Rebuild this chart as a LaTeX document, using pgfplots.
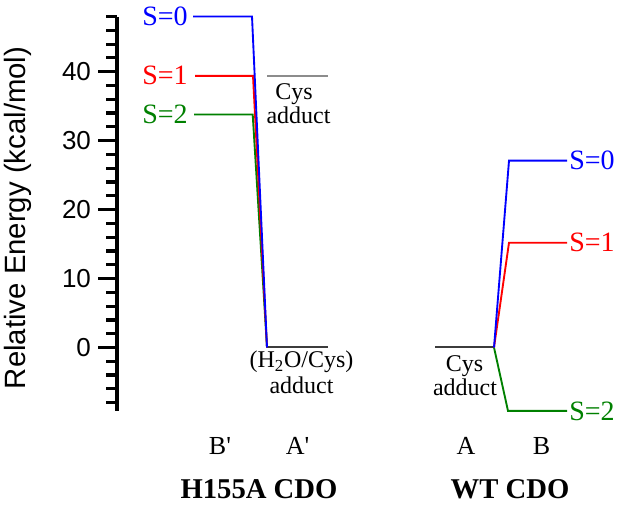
\documentclass[border=0pt]{standalone}
\usepackage{fontspec}
\setmainfont{Liberation Serif}
\newfontfamily\arial{Liberation Sans}
\usepackage{pgfplots}
\pgfplotsset{compat=1.18}
\definecolor{sblue}{RGB}{0,0,255}
\definecolor{sred}{RGB}{255,0,0}
\definecolor{sgreen}{RGB}{0,128,0}
\definecolor{lvl}{RGB}{60,60,60}
\definecolor{lgray}{RGB}{140,140,140}
\begin{document}
\begin{tikzpicture}
\path[use as bounding box] (0pt,0pt) rectangle (468pt,382.5pt);
\begin{axis}[
  at={(87.75pt,74.3pt)}, anchor=south west,
  scale only axis, width=377.25pt, height=295.8pt,
  xmin=117, xmax=620, ymin=-9.2, ymax=48,
  axis x line=none, axis y line*=left,
  y axis line style={line width=2.6pt},
  ytick={0,10,20,30,40},
  minor ytick={-8,-6,-4,-2,2,4,6,8,12,14,16,18,22,24,26,28,32,34,36,38,42,44,46,48},
  tick align=outside,
  major tick length=14pt, minor tick length=8pt,
  tick style={line width=2.4pt, black},
  yticklabel style={font=\arial\fontsize{19.5}{19.5}\selectfont, xshift=-2pt},
  /pgf/number format/assume math mode=true,
  ylabel={Relative Energy (kcal/mol)},
  ylabel style={font=\arial\fontsize{22}{22}\selectfont, at={(axis cs:18,18.8)}, anchor=center},
  clip=false,
]
% H155A CDO
\addplot[lgray, line width=1.3pt] coordinates {(267,39.4) (328,39.4)};
\addplot[lvl, line width=1.5pt] coordinates {(267,0) (328,0)};
\addplot[sgreen, line width=1.4pt] coordinates {(194,33.8) (252.7,33.8) (267,0)};
\addplot[sred, line width=1.4pt] coordinates {(195,39.4) (253,39.4) (267,0)};
\addplot[sblue, line width=1.4pt] coordinates {(193,48) (252,48) (267,0)};
% WT CDO
\addplot[lvl, line width=1.5pt] coordinates {(435,0) (494,0)};
\addplot[sgreen, line width=1.4pt] coordinates {(494,0) (508,-9.2) (567,-9.2)};
\addplot[sred, line width=1.4pt] coordinates {(494,0) (509,15.2) (567,15.2)};
\addplot[sblue, line width=1.4pt] coordinates {(494,0) (509,27.1) (567,27.1)};
% spin labels
\node[sblue, anchor=east, inner sep=0pt, font=\fontsize{21}{21}\selectfont] at (axis cs:188,48) {S=0};
\node[sred, anchor=east, inner sep=0pt, font=\fontsize{21}{21}\selectfont] at (axis cs:188,39.4) {S=1};
\node[sgreen, anchor=east, inner sep=0pt, font=\fontsize{21}{21}\selectfont] at (axis cs:188,33.8) {S=2};
\node[sblue, anchor=west, inner sep=0pt, font=\fontsize{21}{21}\selectfont] at (axis cs:569,27.1) {S=0};
\node[sred, anchor=west, inner sep=0pt, font=\fontsize{21}{21}\selectfont] at (axis cs:569,15.2) {S=1};
\node[sgreen, anchor=west, inner sep=0pt, font=\fontsize{21}{21}\selectfont] at (axis cs:569,-9.2) {S=2};
% species labels
\node[anchor=base, inner sep=0pt, font=\fontsize{18}{18}\selectfont] at (axis cs:294,35.9) {Cys};
\node[anchor=base, inner sep=0pt, font=\fontsize{18}{18}\selectfont] at (axis cs:298.5,32.55) {adduct};
\node[anchor=base, inner sep=0pt, font=\fontsize{18}{18}\selectfont] at (axis cs:301.5,-2.93) {(H\textsubscript{2}O/Cys)};
\node[anchor=base, inner sep=0pt, font=\fontsize{18}{18}\selectfont] at (axis cs:301.5,-6.74) {adduct};
\node[anchor=base, inner sep=0pt, font=\fontsize{18}{18}\selectfont] at (axis cs:464.5,-3.5) {Cys};
\node[anchor=base, inner sep=0pt, font=\fontsize{18}{18}\selectfont] at (axis cs:465,-6.9) {adduct};
% state labels
\node[anchor=base, inner sep=0pt, font=\fontsize{19.5}{19.5}\selectfont] at (axis cs:220,-15.45) {B\textquotesingle};
\node[anchor=base, inner sep=0pt, font=\fontsize{19.5}{19.5}\selectfont] at (axis cs:297.5,-15.45) {A\textquotesingle};
\node[anchor=base, inner sep=0pt, font=\fontsize{19.5}{19.5}\selectfont] at (axis cs:466,-15.45) {A};
\node[anchor=base, inner sep=0pt, font=\fontsize{19.5}{19.5}\selectfont] at (axis cs:541.5,-15.45) {B};
\node[anchor=base, inner sep=0pt, font=\bfseries\fontsize{21.5}{21.5}\selectfont] at (axis cs:259,-21.97) {H155A CDO};
\node[anchor=base, inner sep=0pt, font=\bfseries\fontsize{21.5}{21.5}\selectfont] at (axis cs:510,-21.97) {WT CDO};
\end{axis}
\end{tikzpicture}
\end{document}
